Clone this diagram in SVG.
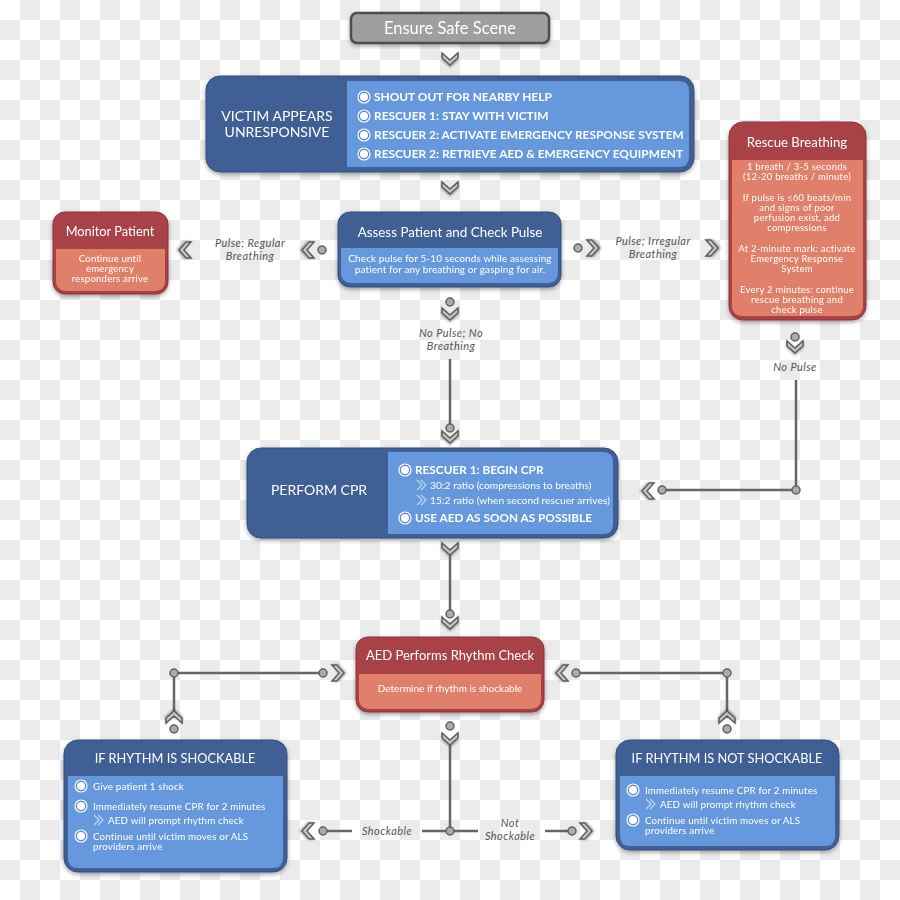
<svg xmlns="http://www.w3.org/2000/svg" width="900" height="900" viewBox="0 0 900 900">
<defs>
<pattern id="chk" width="40" height="40" patternUnits="userSpaceOnUse">
<rect width="40" height="40" fill="#ffffff"/>
<rect x="20" y="0" width="20" height="20" fill="#ebebeb"/>
<rect x="0" y="20" width="20" height="20" fill="#ebebeb"/>
</pattern>
<filter id="sh" x="-10%" y="-10%" width="120%" height="130%">
<feDropShadow dx="0" dy="2" stdDeviation="2" flood-color="#000" flood-opacity="0.35"/>
</filter>
<filter id="csh" x="-50%" y="-50%" width="200%" height="200%">
<feDropShadow dx="0" dy="1.5" stdDeviation="1.2" flood-color="#000" flood-opacity="0.35"/>
</filter>
<path id="chev" d="M-8,-5 L0,2 L8,-5 L8,0 L0,7 L-8,0 Z" fill="#c4c4c4" stroke="#5c5c5c" stroke-width="1.5" stroke-linejoin="miter" filter="url(#csh)"/>
<g id="bul">
<circle r="6" fill="#5b88ca" stroke="#ffffff" stroke-width="1.2"/>
<circle r="4" fill="#ffffff"/>
</g>
<path id="sch" d="M-3,-5 L2,0 L-3,5 M1,-5 L6,0 L1,5" fill="none" stroke="#c6daf5" stroke-width="1.1"/>
</defs>
<style>
.dkb{fill:#405f95;stroke:#33507f;stroke-width:1}
.ltb{fill:#6598dd}
.dkr{fill:#a84346;stroke:#8f3538;stroke-width:1}
.ltr{fill:#e0806a}
.t{font-family:Lato,"Open Sans","Liberation Sans",sans-serif;fill:#ffffff}
.b{font-weight:bold}
.sm{letter-spacing:0.2px}
.lbl{font-family:Lato,"Open Sans","Liberation Sans",sans-serif;font-style:italic;font-size:11px;letter-spacing:0.45px;fill:#555555}
.ln{stroke:#666666;stroke-width:2.5;fill:none}
.dot{fill:#ababab;stroke:#606060;stroke-width:1.5}
</style>
<rect width="900" height="900" fill="url(#chk)"/>

<g id="connectors">
<use href="#chev" transform="translate(450,58)"/>
<use href="#chev" transform="translate(450,187)"/>
<!-- left to monitor -->
<circle class="dot" cx="322" cy="250" r="4"/>
<use href="#chev" transform="translate(309,250) rotate(90)"/>
<use href="#chev" transform="translate(186,250) rotate(90)"/>
<text class="lbl" x="250" y="247" text-anchor="middle">Pulse; Regular</text>
<text class="lbl" x="250" y="260" text-anchor="middle">Breathing</text>
<!-- right to rescue -->
<circle class="dot" cx="578" cy="248" r="4"/>
<use href="#chev" transform="translate(592,248) rotate(-90)"/>
<use href="#chev" transform="translate(711,248) rotate(-90)"/>
<text class="lbl" x="653" y="245" text-anchor="middle">Pulse; Irregular</text>
<text class="lbl" x="653" y="258" text-anchor="middle">Breathing</text>
<!-- down to CPR -->
<circle class="dot" cx="450" cy="302" r="4"/>
<use href="#chev" transform="translate(450,313)"/>
<text class="lbl" x="451" y="337" text-anchor="middle">No Pulse; No</text>
<text class="lbl" x="451" y="350" text-anchor="middle">Breathing</text>
<line class="ln" x1="450" y1="359" x2="450" y2="425"/>
<circle class="dot" cx="450" cy="428" r="4"/>
<use href="#chev" transform="translate(450,436)"/>
<!-- rescue to CPR -->
<circle class="dot" cx="795" cy="337" r="4"/>
<use href="#chev" transform="translate(795,346)"/>
<text class="lbl" x="795" y="371" text-anchor="middle">No Pulse</text>
<polyline class="ln" points="796,380 796,490 662,490"/>
<circle class="dot" cx="796" cy="490" r="4"/>
<circle class="dot" cx="662" cy="490" r="4"/>
<use href="#chev" transform="translate(649,491) rotate(90)"/>
<!-- CPR to AED -->
<use href="#chev" transform="translate(450,548)"/>
<line class="ln" x1="450" y1="555" x2="450" y2="612"/>
<circle class="dot" cx="450" cy="614" r="4"/>
<use href="#chev" transform="translate(450,622)"/>
<!-- side loops back to AED -->
<polyline class="ln" points="174,718 174,673 323,673"/>
<circle class="dot" cx="174" cy="673" r="4"/>
<circle class="dot" cx="323" cy="673" r="4"/>
<use href="#chev" transform="translate(337,673) rotate(-90)"/>
<use href="#chev" transform="translate(174,718) rotate(180)"/>
<circle class="dot" cx="174" cy="729" r="4"/>
<polyline class="ln" points="727,718 727,673 576,673"/>
<circle class="dot" cx="727" cy="673" r="4"/>
<circle class="dot" cx="576" cy="673" r="4"/>
<use href="#chev" transform="translate(563,673) rotate(90)"/>
<use href="#chev" transform="translate(727,718) rotate(180)"/>
<circle class="dot" cx="727" cy="729" r="4"/>
<!-- AED down to decision -->
<circle class="dot" cx="450" cy="726" r="4"/>
<use href="#chev" transform="translate(450,738)"/>
<line class="ln" x1="450" y1="745" x2="450" y2="831"/>
<line class="ln" x1="323" y1="831" x2="352" y2="831"/>
<line class="ln" x1="422" y1="831" x2="478" y2="831"/>
<line class="ln" x1="545" y1="831" x2="572" y2="831"/>
<circle class="dot" cx="450" cy="831" r="4"/>
<circle class="dot" cx="323" cy="831" r="4"/>
<circle class="dot" cx="572" cy="831" r="4"/>
<use href="#chev" transform="translate(309,831) rotate(90)"/>
<use href="#chev" transform="translate(585,831) rotate(-90)"/>
<text class="lbl" x="387" y="835" text-anchor="middle">Shockable</text>
<text class="lbl" x="510" y="827" text-anchor="middle">Not</text>
<text class="lbl" x="510" y="840" text-anchor="middle">Shockable</text>
</g>

<g id="ensure-safe-scene" filter="url(#sh)">
<rect x="351" y="13" width="198" height="30" rx="6" fill="#9f9f9f" stroke="#4d4d4d" stroke-width="2.5"/>
<text class="t" x="450" y="33.5" font-size="16.5" text-anchor="middle" fill="#f2f2f2">Ensure Safe Scene</text>
</g>

<g id="victim" filter="url(#sh)">
<rect class="dkb" x="206" y="76" width="488" height="96" rx="14"/>
<path class="ltb" d="M347,81 H679 Q689,81 689,91 V157 Q689,167 679,167 H347 Z"/>
<text class="t" x="277" y="121" font-size="14" text-anchor="middle">VICTIM APPEARS</text>
<text class="t" x="277" y="137" font-size="14" text-anchor="middle">UNRESPONSIVE</text>
<use href="#bul" x="364" y="97"/>
<use href="#bul" x="364" y="116"/>
<use href="#bul" x="364" y="135"/>
<use href="#bul" x="364" y="154"/>
<g class="t b" font-size="11.9">
<text x="374" y="101">SHOUT OUT FOR NEARBY HELP</text>
<text x="374" y="120">RESCUER 1: STAY WITH VICTIM</text>
<text x="374" y="139">RESCUER 2: ACTIVATE EMERGENCY RESPONSE SYSTEM</text>
<text x="374" y="158">RESCUER 2: RETRIEVE AED &amp; EMERGENCY EQUIPMENT</text>
</g>
</g>

<g id="assess" filter="url(#sh)">
<rect class="dkb" x="338" y="212" width="223" height="75" rx="12"/>
<path class="ltb" d="M341,248 H558 V272 Q558,283 547,283 H352 Q341,283 341,272 Z"/>
<text class="t" x="450" y="236.5" font-size="13.4" text-anchor="middle">Assess Patient and Check Pulse</text>
<text class="t" x="450" y="262" font-size="10" letter-spacing="0.1" text-anchor="middle">Check pulse for 5-10 seconds while assessing</text>
<text class="t" x="450" y="273" font-size="10" letter-spacing="0.1" text-anchor="middle">patient for any breathing or gasping for air.</text>
</g>

<g id="monitor" filter="url(#sh)">
<rect class="dkr" x="53" y="212" width="115" height="82" rx="12"/>
<path class="ltr" d="M56,249 H165 V280 Q165,291 154,291 H67 Q56,291 56,280 Z"/>
<text class="t" x="110" y="236" font-size="12.8" text-anchor="middle">Monitor Patient</text>
<g class="t sm" font-size="9.6" text-anchor="middle" letter-spacing="0.35">
<text x="110" y="262">Continue until</text>
<text x="110" y="272">emergency</text>
<text x="110" y="282">responders arrive</text>
</g>
</g>

<g id="rescue-breathing" filter="url(#sh)">
<rect class="dkr" x="729" y="122" width="137" height="198" rx="14"/>
<path class="ltr" d="M732,160 H863 V305 Q863,316 852,316 H743 Q732,316 732,305 Z"/>
<text class="t" x="797" y="147" font-size="13.2" text-anchor="middle">Rescue Breathing</text>
<g class="t" font-size="9.5" letter-spacing="0.25" text-anchor="middle">
<text x="797" y="170">1 breath / 3-5 seconds</text>
<text x="797" y="180">(12-20 breaths / minute)</text>
<text x="797" y="201">If pulse is ≤60 beats/min</text>
<text x="797" y="211">and signs of poor</text>
<text x="797" y="221">perfusion exist, add</text>
<text x="797" y="231">compressions</text>
<text x="797" y="252">At 2-minute mark: activate</text>
<text x="797" y="262">Emergency Response</text>
<text x="797" y="272">System</text>
<text x="797" y="293">Every 2 minutes: continue</text>
<text x="797" y="303">rescue breathing and</text>
<text x="797" y="313">check pulse</text>
</g>
</g>

<g id="perform-cpr" filter="url(#sh)">
<rect class="dkb" x="247" y="448" width="371" height="90" rx="14"/>
<path class="ltb" d="M388,452 H603 Q613,452 613,462 V524 Q613,534 603,534 H388 Z"/>
<text class="t" x="319" y="495" font-size="14" text-anchor="middle">PERFORM CPR</text>
<use href="#bul" x="405" y="470"/>
<use href="#bul" x="405" y="518"/>
<text class="t b" x="415" y="474" font-size="11.8">RESCUER 1: BEGIN CPR</text>
<use href="#sch" x="420" y="485"/>
<use href="#sch" x="420" y="500"/>
<text class="t" x="430" y="489" font-size="10.3" fill="#eef4fc">30:2 ratio (compressions to breaths)</text>
<text class="t" x="430" y="504" font-size="10.3" fill="#eef4fc">15:2 ratio (when second rescuer arrives)</text>
<text class="t b" x="415" y="522" font-size="11.8">USE AED AS SOON AS POSSIBLE</text>
</g>

<g id="aed-check" filter="url(#sh)">
<rect class="dkr" x="356" y="637" width="188" height="75" rx="12"/>
<path class="ltr" d="M359,674 H541 V698 Q541,709 530,709 H370 Q359,709 359,698 Z"/>
<text class="t" x="450" y="660" font-size="13" text-anchor="middle">AED Performs Rhythm Check</text>
<text class="t" x="450" y="692" font-size="10" text-anchor="middle">Determine if rhythm is shockable</text>
</g>

<g id="shockable" filter="url(#sh)">
<rect class="dkb" x="64" y="740" width="223" height="132" rx="14"/>
<path class="ltb" d="M68,776 H283 V858 Q283,868 273,868 H78 Q68,868 68,858 Z"/>
<text class="t" x="175" y="763" font-size="12.8" text-anchor="middle">IF RHYTHM IS SHOCKABLE</text>
<use href="#bul" x="81" y="786"/>
<use href="#bul" x="81" y="806"/>
<use href="#bul" x="81" y="836"/>
<use href="#sch" x="97" y="820"/>
<g class="t" font-size="9.8" letter-spacing="0.15">
<text x="93" y="790">Give patient 1 shock</text>
<text x="93" y="810">Immediately resume CPR for 2 minutes</text>
<text x="108" y="824">AED will prompt rhythm check</text>
<text x="93" y="839.5">Continue until victim moves or ALS</text>
<text x="93" y="850">providers arrive</text>
</g>
</g>

<g id="not-shockable" filter="url(#sh)">
<rect class="dkb" x="616" y="740" width="223" height="110" rx="14"/>
<path class="ltb" d="M620,776 H835 V836 Q835,846 825,846 H630 Q620,846 620,836 Z"/>
<text class="t" x="727" y="763" font-size="12.8" text-anchor="middle">IF RHYTHM IS NOT SHOCKABLE</text>
<use href="#bul" x="633" y="790"/>
<use href="#bul" x="633" y="820"/>
<use href="#sch" x="649" y="804"/>
<g class="t" font-size="9.8" letter-spacing="0.15">
<text x="645" y="794">Immediately resume CPR for 2 minutes</text>
<text x="660" y="808">AED will prompt rhythm check</text>
<text x="645" y="823.5">Continue until victim moves or ALS</text>
<text x="645" y="834">providers arrive</text>
</g>
</g>
</svg>
